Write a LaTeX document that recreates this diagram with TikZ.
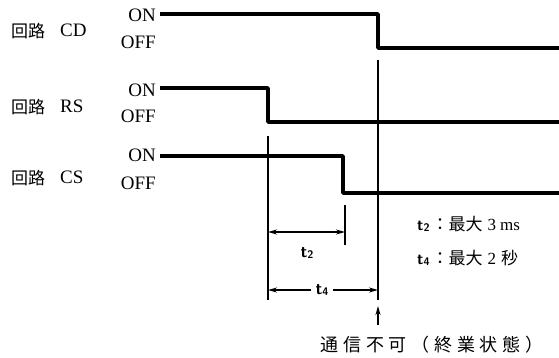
\documentclass[tikz,border=0pt]{standalone}
\usepackage{fontspec}
\setmainfont{Liberation Serif}
\newfontfamily\jp{Noto Sans CJK JP}
\newfontfamily\jpwide[LetterSpace=26]{Noto Sans CJK JP}
\usetikzlibrary{arrows.meta}
\newcommand{\tsub}[1]{{\sffamily\bfseries t\raisebox{-1pt}{\fontsize{11}{11}\selectfont #1}}}
\begin{document}
\begin{tikzpicture}[x=1pt,y=-1pt,
  sig/.style={line width=3.6pt,line join=round},
  guide/.style={line width=1.6pt},
  dim/.style={line width=1.3pt,{Stealth[length=9pt,width=5pt]}-{Stealth[length=9pt,width=5pt]}},
  jlab/.style={font=\jp\fontsize{17}{17}\selectfont,inner sep=0pt,anchor=west},
  lab/.style={font=\fontsize{19}{19}\selectfont,inner sep=0pt,anchor=west},
  onoff/.style={font=\fontsize{19}{19}\selectfont,inner sep=0pt,anchor=east},
  leg/.style={font=\fontsize{17}{17}\selectfont,inner sep=0pt,anchor=west}]
\useasboundingbox (0,0) rectangle (559,358);
% row labels
\node[jlab] (jcd) at (11,31) {回路};
\node[lab] (lcd) at (60,30) {CD};
\node[jlab] (jrs) at (11,107) {回路};
\node[lab] (lrs) at (60,106) {RS};
\node[jlab] (jcs) at (11,178) {回路};
\node[lab] (lcs) at (60,177) {CS};
\node[onoff] (cdon) at (156,15) {ON};
\node[onoff] (cdoff) at (156,42) {OFF};
\node[onoff] (rson) at (156,90) {ON};
\node[onoff] (rsoff) at (156,116) {OFF};
\node[onoff] (cson) at (156,155) {ON};
\node[onoff] (csoff) at (156,183) {OFF};
% signals
\coordinate (cda) at (160,14);
\coordinate (cdb) at (378,14);
\coordinate (cdc) at (378,48);
\coordinate (cdd) at (559,48);
\draw[sig] (cda) -- (cdb) -- (cdc) -- (cdd);
\coordinate (rsa) at (160,88);
\coordinate (rsb) at (268,88);
\coordinate (rsc) at (268,122);
\coordinate (rsd) at (559,122);
\draw[sig] (rsa) -- (rsb) -- (rsc) -- (rsd);
\coordinate (csa) at (160,156);
\coordinate (csb) at (343,156);
\coordinate (csc) at (343,193);
\coordinate (csd) at (559,193);
\draw[sig] (csa) -- (csb) -- (csc) -- (csd);
% guides
\coordinate (g1t) at (268,136);
\coordinate (g1b) at (268,300);
\draw[guide] (g1t) -- (g1b);
\coordinate (g2t) at (378,60);
\coordinate (g2b) at (378,300);
\draw[guide] (g2t) -- (g2b);
\coordinate (g3t) at (345,205);
\coordinate (g3b) at (345,245);
\draw[guide] (g3t) -- (g3b);
% dimensions
\coordinate (t2a) at (268,232);
\coordinate (t2b) at (345,232);
\draw[dim] (t2a) -- (t2b);
\node[font=\fontsize{17}{17}\selectfont,inner sep=0pt] (t2l) at (307,253) {\tsub{2}};
\coordinate (t4a) at (268,290);
\coordinate (t4b) at (378,290);
\draw[dim] (t4a) -- (t4b);
\node[font=\fontsize{17}{17}\selectfont,fill=white,inner xsep=5pt,inner ysep=1pt] (t4l) at (322,290) {\tsub{4}};
% legend
\node[leg] (leg2) at (417,224) {{\fontsize{16}{16}\selectfont\tsub{2}}\hspace{2pt}{\jp：最大}\hspace{5pt}3\hspace{4pt}ms};
\node[leg] (leg4) at (417,258) {{\fontsize{16}{16}\selectfont\tsub{4}}\hspace{2pt}{\jp：最大}\hspace{5pt}2\hspace{5pt}{\jp 秒}};
% bottom label
\coordinate (upb) at (378,325);
\coordinate (upt) at (378,306);
\draw[line width=1.3pt,-{Stealth[length=9pt,width=5pt]}] (upb) -- (upt);
\node[font=\jpwide\fontsize{18}{18}\selectfont,inner sep=0pt] (stop) at (432,345) {通信不可（終業状態）};
\end{tikzpicture}
\end{document}
